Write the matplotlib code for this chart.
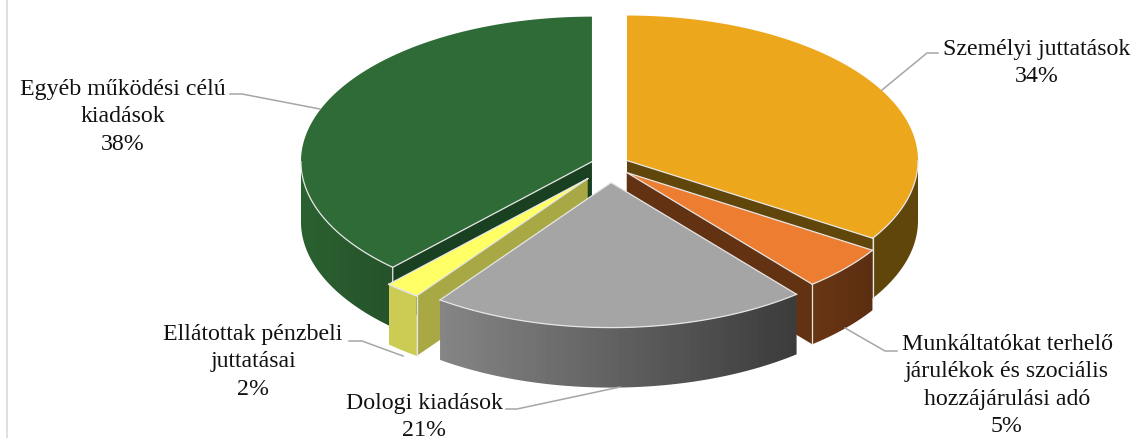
import numpy as np
import matplotlib
matplotlib.use("Agg")
import matplotlib.pyplot as plt
from matplotlib.colors import to_rgb
from matplotlib.patches import Polygon

plt.rcParams['font.family'] = ['Liberation Serif', 'DejaVu Serif']

# slices in clockwise order, starting at 12 o'clock
labels = ["Személyi juttatások", "Munkáltatókat terhelő\njárulékok és szociális\nhozzájárulási adó",
          "Dologi kiadások", "Ellátottak pénzbeli\njuttatásai", "Egyéb működési célú\nkiadások"]
shares = [34, 5, 21, 2, 38]

top_colors = ["#eda71c", "#ed7d31", "#a5a5a5", "#ffff66", "#2f6b37"]
side_colors = ["#60460a", "#633213", "#a8a845", "#a8a845", "#1a4022"]
wall_left = ["#60460a", "#6a3614", "#858585", "#cccc55", "#2b6130"]
wall_right = ["#60460a", "#5c2e11", "#3c3c3c", "#cccc55", "#25532a"]
explode = [1.0, 1.15, 1.8, 1.8, 1.0]

# pixel layout of the projected pie
cx, cy = 610, 165.2
rx, ry = 291, 145
gap = 0.0667
depth = 60
edge = "#e6e6e6"

fig = plt.figure(figsize=(11.36, 4.38), dpi=100)
ax = fig.add_axes([0, 0, 1, 1])
ax.set_xlim(0, 1136)
ax.set_ylim(438, 0)
ax.axis("off")

ax.plot([7, 7], [0, 438], color="#d9d9d9", lw=1.2)


def rim(tip, a, b):
    t = np.radians(np.linspace(a, b, 120))
    return np.column_stack([tip[0] + rx * np.sin(t), tip[1] - ry * np.cos(t)])


def bevel(xs, ys, z):
    ax.plot(xs, ys, color=edge, lw=0.9, zorder=z + 0.2)


def gradient_wall(poly, c1, c2, z):
    c1, c2 = np.array(to_rgb(c1)), np.array(to_rgb(c2))
    ramp = np.linspace(0, 1, 64)[None, :, None]
    img = ax.imshow(c1 + (c2 - c1) * ramp,
                    extent=[poly[:, 0].min(), poly[:, 0].max(), poly[:, 1].max(), poly[:, 1].min()],
                    aspect="auto", zorder=z)
    clip = Polygon(poly, closed=True, fc="none", ec="none", zorder=z)
    ax.add_patch(clip)
    img.set_clip_path(clip)


edges = np.concatenate([[0], np.cumsum(shares)]) * 360 / sum(shares)
mids = (edges[:-1] + edges[1:]) / 2
tips = [(cx + gap * e * rx * np.sin(np.radians(m)), cy - gap * e * ry * np.cos(np.radians(m)))
        for e, m in zip(explode, mids)]

# back to front: each later slice hides what it overlaps
order = [0, 1, 4, 3, 2]
down = np.array([0, depth])
for n, i in enumerate(order):
    a, b = edges[i], edges[i + 1]
    tip = np.array(tips[i])
    z = 2 + n
    arc = rim(tip, a, b)
    # the wall only shows on the front half of the rim
    wall = rim(tip, max(a, 90), min(b, 270))
    wall_poly = np.vstack([wall, (wall + down)[::-1]])
    # radial side face: end edge for the orange slices, start edge for yellow and green
    if i in (0, 1):
        corner = arc[-1]
    elif i in (3, 4):
        corner = arc[0]
    else:
        corner = None
    if corner is not None:
        side = np.array([tip, corner, corner + down, tip + down])
        ax.add_patch(Polygon(side, closed=True, fc=side_colors[i], ec="none", zorder=z))
    gradient_wall(wall_poly, wall_left[i], wall_right[i], z)
    ax.add_patch(Polygon(np.vstack([tip, arc]), closed=True, fc=top_colors[i], ec="none", zorder=z + 0.1))
    # light bevel lines
    bevel(wall[:, 0], wall[:, 1], z)
    if i == 3:
        bevel([tip[0], arc[0, 0], arc[-1, 0], tip[0]], [tip[1], arc[0, 1], arc[-1, 1], tip[1]], z)
    elif i == 2:
        bevel([arc[-1, 0], tip[0], arc[0, 0]], [arc[-1, 1], tip[1], arc[0, 1]], z)
    elif i == 1:
        bevel([arc[0, 0], tip[0], arc[-1, 0]], [arc[0, 1], tip[1], arc[-1, 1]], z)
    elif i == 0:
        bevel([tip[0], arc[-1, 0]], [tip[1], arc[-1, 1]], z)
    elif i == 4:
        bevel([tip[0], arc[0, 0], arc[0, 0]], [tip[1], arc[0, 1], arc[0, 1] + 18], z)
    if corner is not None and i != 4:
        bevel([corner[0], corner[0]], [corner[1], corner[1] + depth], z)

# leader lines and data labels
leaders = [[(938, 53), (927, 53), (882, 90)],
           [(897, 351), (885, 351), (845, 328)],
           [(506, 409), (517, 409), (620, 387)],
           [(349, 341), (362, 341), (403, 356)],
           [(230, 94), (242, 94), (320, 109)]]
label_pos = [(1037, 48), (1007, 343), (424, 402), (253, 333), (123, 88)]
for lab, sh, line, pos in zip(labels, shares, leaders, label_pos):
    line = np.array(line)
    ax.plot(line[:, 0], line[:, 1], color="#a6a6a6", lw=1.1, zorder=20)
    ax.text(pos[0], pos[1] - 9, f"{lab}\n{sh}%", ha="center", va="top", fontsize=17.2,
            color="#111111", linespacing=1.4, zorder=21)

fig.savefig("out.png", dpi=100)
